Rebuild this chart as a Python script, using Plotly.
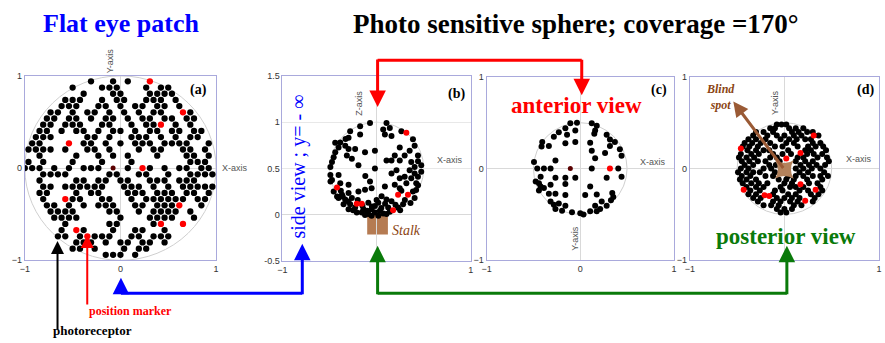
import plotly.graph_objects as go

# ---------------- DATA ----------------
# Panel (a): flat hexagonal eye patch, rows of lattice sites
# 'o' = photoreceptor, 'r' = position marker, 'd' = centre marker, '.' = empty site
a_pitch = 1 / 13.0
a_row_step = 0.0672
a_row_k = list(range(14, -15, -1))
a_rows = [
    ".........o..o.o..r.........",
    ".......o...ooo...o.oo.......",
    "........o...oo...oooo......",
    "......ooo..o.oo..ooo.o......",
    ".....ooo..oo.o.oo.oo.o.....",
    "....oo.o.oo.o.o.o.oo..ro....",
    "...oo.oo.o.oo.o.oo.oo.oo...",
    "...oo.ooo..oo..o.oor.o.o....",
    "..oo.o.oo.o.oo.o.oo.oo.oo..",
    "..ooo....oo.o..ooo.o.o.oo...",
    ".oo...r.oo.o.o.ooo.oooo..o.",
    ".oooo.o..oo.o...o.oo..oo.o..",
    "..o....o..o.o.o...o...oo.o.",
    ".o.o...o...o...o.......ooo..",
    "ooo.o.o.ooo.d.o.ro.o.oo.oo.",
    "...oooo.....oo..oo..o..oooo.",
    "..o....oo.oo.oo..ooo.ooo...",
    "...oo.oooooo..ooo.o.o.ooooo.",
    "..oo...o.oo...ooo.ooo.oo.o.",
    "...o..roo..oo..o.oooooo.oo..",
    "...oo.o.o.ooo..oo.ooor..o..",
    "....oooo....oo..o.oooo.o....",
    "....oooo.....o...oooo..o...",
    "......o.....oo....or..r.....",
    ".....o.ro...o..oo..o.......",
    ".....oo.orooo..oo.ooo.......",
    ".......ooo.o.oo.oo.o.......",
    ".......oo.o...o.oo..........",
    "...........ooo.o...........",
]

# Panel (b): side view (x, z)
b_x = [-0.070, 0.105, -0.175, 0.070, 0.140, -0.281, -0.175, -0.298, 0.088, 0.158, 0.263,
       0.386, -0.386, -0.404, -0.333, -0.439, -0.456, -0.298, -0.228, -0.123, -0.018, 0.246,
       0.404, 0.351, 0.193, 0.298, -0.316, -0.263, -0.193, -0.474, -0.491, 0.105, 0.158,
       0.246, 0.368, 0.439, 0.474, 0.404, 0.351, 0.211, 0.158, 0.404, 0.474, -0.018, 0.298,
       0.368, 0.439, 0.246, -0.491, -0.404, -0.474, -0.386, -0.490, -0.298, -0.070, -0.053,
       -0.123, -0.193, 0.088, 0.193, 0.246, 0.316, 0.421, 0.263, 0.386, 0.404, -0.456,
       -0.368, -0.298, -0.404, -0.333, -0.263, -0.281, -0.228, -0.140, -0.088, -0.053,
       -0.018, 0.018, 0.053, 0.105, 0.158, 0.123, 0.035, 0.070, -0.018, -0.088, -0.158,
       0.105, 0.228, 0.281, -0.351, -0.298, -0.211, 0.018, -0.053, -0.123, -0.25, -0.10,
       0.05, 0.14, 0.20, -0.30, -0.36, 0.30, 0.36, -0.42, -0.20, 0.00, 0.09, -0.05, 0.25,
       -0.15, -0.38, 0.42, 0.44, -0.44, -0.33, 0.44, -0.12]
b_z = [0.991, 0.991, 0.956, 0.921, 0.939, 0.904, 0.868, 0.833, 0.868, 0.851, 0.904,
       0.816, 0.781, 0.728, 0.746, 0.675, 0.623, 0.711, 0.711, 0.675, 0.693, 0.728,
       0.746, 0.693, 0.640, 0.640, 0.640, 0.605, 0.535, 0.570, 0.518, 0.588, 0.588,
       0.588, 0.570, 0.640, 0.535, 0.518, 0.482, 0.482, 0.447, 0.447, 0.465, 0.500, 0.412,
       0.395, 0.412, 0.395, 0.430, 0.430, 0.377, 0.342, 0.360, 0.325, 0.360, 0.289,
       0.272, 0.254, 0.307, 0.325, 0.289, 0.342, 0.342, 0.261, 0.254, 0.184, 0.254,
       0.219, 0.237, 0.184, 0.167, 0.184, 0.114, 0.079, 0.061, 0.132, 0.061,
       0.096, 0.132, 0.202, 0.167, 0.149, 0.079, 0.044, 0.016, 0.026, 0.009, 0.026,
       0.009, 0.079, 0.114, 0.114, 0.061, 0.026, -0.009, -0.009, 0.000, 0.05, 0.045,
       0.075, 0.035, 0.11, 0.145, 0.20, 0.16, 0.13, 0.20, 0.16, 0.16, 0.12, 0.09, 0.05,
       0.10, 0.26, 0.27, 0.32, 0.78, 0.82, 0.58, 0.42]
b_red_x = [0.316, -0.421, 0.333, 0.228, -0.211, -0.158, 0.175]
b_red_z = [0.886, 0.296, 0.219, 0.219, 0.121, 0.121, 0.051]

# Panel (c): anterior view (x, y)
c_x = [-0.106, -0.035, 0.123, 0.176, -0.159, -0.053, -0.229, -0.141, -0.282, 0.159, 0.150,
       0.282, 0.317, 0.370, -0.406, -0.413, -0.335, -0.159, -0.053, 0.106, 0.317, 0.423,
       0.123, 0.265, 0.441, -0.265, 0.159, -0.494, -0.459, -0.388, -0.317, 0.123, 0.406,
       -0.423, -0.265, -0.159, -0.053, 0.282, 0.441, -0.476, -0.441, -0.423, -0.317,
       -0.388, -0.441, -0.159, 0.106, -0.265, -0.335, -0.159, 0.053, 0.176, 0.342, 0.353,
       0.328, 0.229, 0.282, 0.159, -0.317, -0.282, -0.229, -0.159, -0.265, -0.194, -0.088,
       0.000, 0.035, 0.106, 0.176, 0.212]
c_y = [0.494, 0.500, 0.494, 0.466, 0.441, 0.416, 0.395, 0.370, 0.346, 0.416, 0.380,
       0.370, 0.317, 0.289, 0.289, 0.240, 0.247, 0.275, 0.289, 0.282, 0.247, 0.212,
       0.194, 0.169, 0.141, 0.088, 0.113, 0.071, 0.000, 0.000, 0.000, 0.000, 0.000,
       -0.088, -0.099, -0.099, -0.099, -0.099, -0.088, -0.141, -0.159, -0.194, -0.176,
       -0.212, -0.240, -0.169, -0.194, -0.275, -0.275, -0.289, -0.289, -0.282, -0.265, -0.310,
       -0.346, -0.360, -0.406, -0.406, -0.360, -0.395, -0.381, -0.406, -0.441, -0.459, -0.476,
       -0.487, -0.500, -0.466, -0.466, -0.441]
c_red_x = [0.317]
c_red_y = [0.0]
c_mark_x = [-0.106]
c_mark_y = [0.0]

# Panel (d): posterior view, rows of points (y, list of x)
d_row_y = [0.48, 0.44, 0.40, 0.36, 0.32, 0.28, 0.24, 0.20, 0.16, 0.12, 0.08, 0.04, 0.00,
           -0.04, -0.08, -0.12, -0.16, -0.20, -0.24, -0.28, -0.32, -0.36, -0.40, -0.44, -0.48]
d_row_x = [
    [-0.08, -0.03, 0.02],
    [-0.15, -0.10, 0.05, 0.12, 0.20],
    [-0.30, -0.22, -0.12, 0.08, 0.15, 0.24, 0.30],
    [-0.33, -0.18, -0.08, 0.00, 0.10, 0.18, 0.36],
    [-0.38, -0.30, -0.20, -0.04, 0.05, 0.13, 0.22, 0.28],
    [-0.42, -0.34, -0.25, -0.15, 0.02, 0.10, 0.30, 0.38],
    [-0.44, -0.37, -0.28, -0.10, -0.02, 0.14, 0.25, 0.33, 0.41],
    [-0.39, -0.30, -0.22, -0.16, 0.04, 0.22, 0.28, 0.44],
    [-0.46, -0.35, -0.27, -0.12, -0.02, 0.07, 0.24, 0.31, 0.40],
    [-0.48, -0.40, -0.32, -0.15, -0.08, 0.14, 0.20, 0.35, 0.45],
    [-0.45, -0.37, -0.28, -0.20, -0.05, 0.12, 0.22, 0.30, 0.47],
    [-0.42, -0.33, -0.16, -0.09, 0.17, 0.26, 0.34, 0.43],
    [-0.46, -0.38, -0.22, -0.14, 0.12, 0.20, 0.29, 0.38],
    [-0.49, -0.40, -0.33, -0.26, -0.10, 0.16, 0.25, 0.42],
    [-0.45, -0.36, -0.20, -0.12, 0.04, 0.12, 0.20, 0.30, 0.38, 0.46],
    [-0.47, -0.40, -0.30, -0.06, 0.02, 0.10, 0.24, 0.40],
    [-0.44, -0.35, -0.27, -0.18, 0.00, 0.08, 0.26, 0.35],
    [-0.40, -0.30, -0.22, -0.04, 0.06, 0.12, 0.20, 0.38],
    [-0.36, -0.26, -0.10, -0.02, 0.16, 0.25, 0.40],
    [-0.38, -0.30, -0.12, 0.04, 0.12, 0.28, 0.36],
    [-0.33, -0.25, -0.08, 0.00, 0.08, 0.16, 0.32],
    [-0.28, -0.12, -0.04, 0.06, 0.14, 0.30],
    [-0.22, -0.14, -0.06, 0.10, 0.18],
    [-0.08, 0.00, 0.08],
    [-0.04, 0.02],
]
d_red_x = [-0.46, 0.31, 0.02, 0.17, 0.17, 0.33, -0.43, -0.21, -0.16, 0.22]
d_red_y = [0.22, 0.36, 0.11, 0.17, -0.17, -0.23, -0.23, -0.29, -0.30, -0.35]
blind_spot_x = [0.0]
blind_spot_y = [-0.01]

# ---------------- BUILD ----------------
W, H = 885, 343


def pxx(v):
    return v / W


def pxy(v):
    return 1 - v / H


BLACK = "#000000"
RED = "#ff0000"
MS = 6

a_bx, a_by, a_rx, a_ry, a_dx, a_dy = [], [], [], [], [], []
for k, s in zip(a_row_k, a_rows):
    c0 = (len(s) - 1) / 2.0
    for i, ch in enumerate(s):
        x = (i - c0) * a_pitch
        y = k * a_row_step
        if ch == "o":
            a_bx.append(x); a_by.append(y)
        elif ch == "r":
            a_rx.append(x); a_ry.append(y)
        elif ch == "d":
            a_dx.append(x); a_dy.append(y)

d_x, d_y = [], []
for yv, xs in zip(d_row_y, d_row_x):
    for xv in xs:
        d_x.append(xv); d_y.append(yv)

fig = go.Figure()


def dots(x, y, color, xa, ya, size=MS):
    fig.add_trace(go.Scatter(x=x, y=y, mode="markers", xaxis=xa, yaxis=ya,
                             marker=dict(color=color, size=size, line=dict(width=0)),
                             showlegend=False, hoverinfo="skip"))


dots(a_bx, a_by, BLACK, "x", "y", 6.3)
dots(a_rx, a_ry, RED, "x", "y", 6.3)
dots(a_dx, a_dy, "#5a0000", "x", "y", 5)

dots(b_x, b_z, BLACK, "x2", "y2")
dots(b_red_x, b_red_z, RED, "x2", "y2")

dots(c_x, c_y, BLACK, "x3", "y3")
dots(c_red_x, c_red_y, RED, "x3", "y3")
dots(c_mark_x, c_mark_y, "#5a0000", "x3", "y3", 5)

dots(d_x, d_y, BLACK, "x4", "y4")
fig.add_trace(go.Scatter(x=blind_spot_x, y=blind_spot_y, mode="markers", xaxis="x4", yaxis="y4",
                         marker=dict(color="#b3825c", size=17, symbol="star-square",
                                     line=dict(width=0)),
                         showlegend=False, hoverinfo="skip"))
dots(d_red_x, d_red_y, RED, "x4", "y4")

FRAME = "#a9a9dc"
ZERO = "#d9d9d9"
TICKF = dict(family="Liberation Sans, Arial", size=9, color="#333333")


def axis(domain, rng, tickvals, ticktext=None, anchor=None, grid=False):
    d = dict(domain=domain, range=rng, showline=True, mirror=True, linecolor=FRAME,
             linewidth=1, zeroline=True, zerolinecolor=ZERO, zerolinewidth=1,
             showgrid=grid, gridcolor="#e8e8e8", ticks="", tickfont=TICKF,
             tickvals=tickvals, fixedrange=True, anchor=anchor)
    if ticktext is not None:
        d["ticktext"] = ticktext
    return d


dom_a_x = [pxx(20), pxx(213)]
dom_b_x = [pxx(280), pxx(470)]
dom_c_x = [pxx(486), pxx(675)]
dom_d_x = [pxx(691), pxx(882)]
dom_y_a = [pxy(263), pxy(73)]
dom_y_b = [pxy(264), pxy(73)]
dom_y_cd = [pxy(263), pxy(74)]

fig.update_layout(
    width=W, height=H, autosize=False,
    margin=dict(l=0, r=0, t=0, b=0),
    paper_bgcolor="white", plot_bgcolor="white",
    xaxis=axis(dom_a_x, [-1, 1], [-1, 0, 1], anchor="y"),
    yaxis=axis(dom_y_a, [-1, 1], [-1, 0, 1], anchor="x"),
    xaxis2=axis(dom_b_x, [-1, 1], [-1, 1], anchor="y2"),
    yaxis2=axis(dom_y_b, [-0.5, 1.5], [-0.5, 0, 0.5, 1, 1.5], ["-0.5", "0", "0.5", "1", "1.5"],
                anchor="x2", grid=True),
    xaxis3=axis(dom_c_x, [-1, 1], [-1, 0, 1], anchor="y3"),
    yaxis3=axis(dom_y_cd, [-1, 1], [-1, 0, 1], anchor="x3"),
    xaxis4=axis(dom_d_x, [-1, 1], [-1, 1], anchor="y4"),
    yaxis4=axis(dom_y_cd, [-1, 1], [-1, 0, 1], anchor="x4"),
)

shapes = []
CIRC = "#cfcfcf"
shapes.append(dict(type="circle", xref="x", yref="y", x0=-1, x1=1, y0=-1, y1=1,
                   line=dict(color=CIRC, width=1), layer="below"))
shapes.append(dict(type="circle", xref="x2", yref="y2", x0=-0.5, x1=0.5, y0=0, y1=1,
                   line=dict(color=CIRC, width=1), layer="below"))
shapes.append(dict(type="circle", xref="x3", yref="y3", x0=-0.5, x1=0.5, y0=-0.5, y1=0.5,
                   line=dict(color=CIRC, width=1), layer="below"))
shapes.append(dict(type="circle", xref="x4", yref="y4", x0=-0.5, x1=0.5, y0=-0.5, y1=0.5,
                   line=dict(color=CIRC, width=1), layer="below"))
# stalk
shapes.append(dict(type="rect", xref="x2", yref="y2", x0=-0.1, x1=0.12, y0=-0.21, y1=0.0,
                   fillcolor="#b57b52", line=dict(width=0), layer="below"))

BLUE = "#0000ff"
GREEN = "#0a7a0a"


def seg(x0, y0, x1, y1, color, w=3):
    shapes.append(dict(type="line", xref="paper", yref="paper",
                       x0=pxx(x0), y0=pxy(y0), x1=pxx(x1), y1=pxy(y1),
                       line=dict(color=color, width=w)))


seg(117, 297, 300, 297, BLUE)
seg(376, 297, 789, 297, GREEN)
seg(376, 57, 582, 57, RED)
fig.update_layout(shapes=shapes)

ann = []


def arrow(tx, ty, fx, fy, color, w=3, size=1.1):
    ann.append(dict(x=pxx(tx), y=pxy(ty), xref="paper", yref="paper",
                    ax=fx - tx, ay=fy - ty, showarrow=True, arrowhead=2,
                    arrowsize=size, arrowwidth=w, arrowcolor=color, text=""))


arrow(117, 281, 117, 298, BLUE)
arrow(300, 246, 300, 298, BLUE)
arrow(376, 248, 376, 298, GREEN)
arrow(789, 248, 789, 298, GREEN)
arrow(376, 105, 376, 56, RED)
arrow(582, 93, 582, 56, RED)
arrow(53, 243, 53, 333, BLACK, w=2, size=1.3)
arrow(83, 237, 83, 308, RED, w=2, size=1.3)

# brown blind spot arrow in data coords of panel d
ann.append(dict(x=-0.54, y=0.73, xref="x4", yref="y4", axref="x4", ayref="y4",
                ax=0.0, ay=-0.01, showarrow=True, arrowhead=2, arrowsize=1.0,
                arrowwidth=3, arrowcolor="#9a5a35", text=""))

SERIF = "Liberation Serif, Times New Roman, serif"
SANS = "Liberation Sans, Arial, sans-serif"


def text(t, x, y, size, color, family=SERIF, angle=0, xanchor="center"):
    ann.append(dict(x=pxx(x), y=pxy(y), xref="paper", yref="paper", text=t,
                    showarrow=False, textangle=angle, xanchor=xanchor, yanchor="middle",
                    font=dict(family=family, size=size, color=color)))


text("<b>Flat eye patch</b>", 118, 19, 26, BLUE)
text("<b>Photo sensitive sphere; coverage =170°</b>", 576, 20, 27, BLACK)
text("<b>(a)</b>", 195, 88, 14, BLACK)
text("<b>(b)</b>", 456, 92, 14, BLACK)
text("<b>(c)</b>", 660, 88, 14, BLACK)
text("<b>(d)</b>", 868, 88, 14, BLACK)

AX = "#555555"
text("Y-axis", 106, 58, 9, AX, SANS, -90)
text("X-axis", 232, 168, 9, AX, SANS)
text("Z-axis", 357, 101, 9, AX, SANS, -90)
text("X-axis", 449, 160, 9, AX, SANS)
text("X-axis", 654, 162, 9, AX, SANS)
text("Y-axis", 575, 240, 9, AX, SANS, -90)
text("Y-axis", 777, 100, 9, AX, SANS, -90)
text("X-axis", 862, 159, 9, AX, SANS)

text("side view ; y= - ∞", 296, 166, 20, BLUE, SERIF, -90)
text("<b>anterior view</b>", 577, 104, 23, RED)
text("<b>posterior view</b>", 788, 238, 23, GREEN)
text("<i>Stalk</i>", 405, 232, 14, "#8b4513")
text("<i><b>Blind<br>spot</b></i>", 722, 95, 12, "#8b4513")
text("<b>position marker</b>", 127, 315, 12, RED)
text("<b>photoreceptor</b>", 88, 335, 13, BLACK)

fig.update_layout(annotations=ann)

fig.write_html(
    "out.html",
    config={"displayModeBar": False, "staticPlot": True},
    post_script=("document.documentElement.style.margin='0';"
                 "document.body.style.margin='0';document.body.style.padding='0';"
                 "document.documentElement.style.overflow='hidden';"
                 "document.body.style.overflow='hidden';"),
)
